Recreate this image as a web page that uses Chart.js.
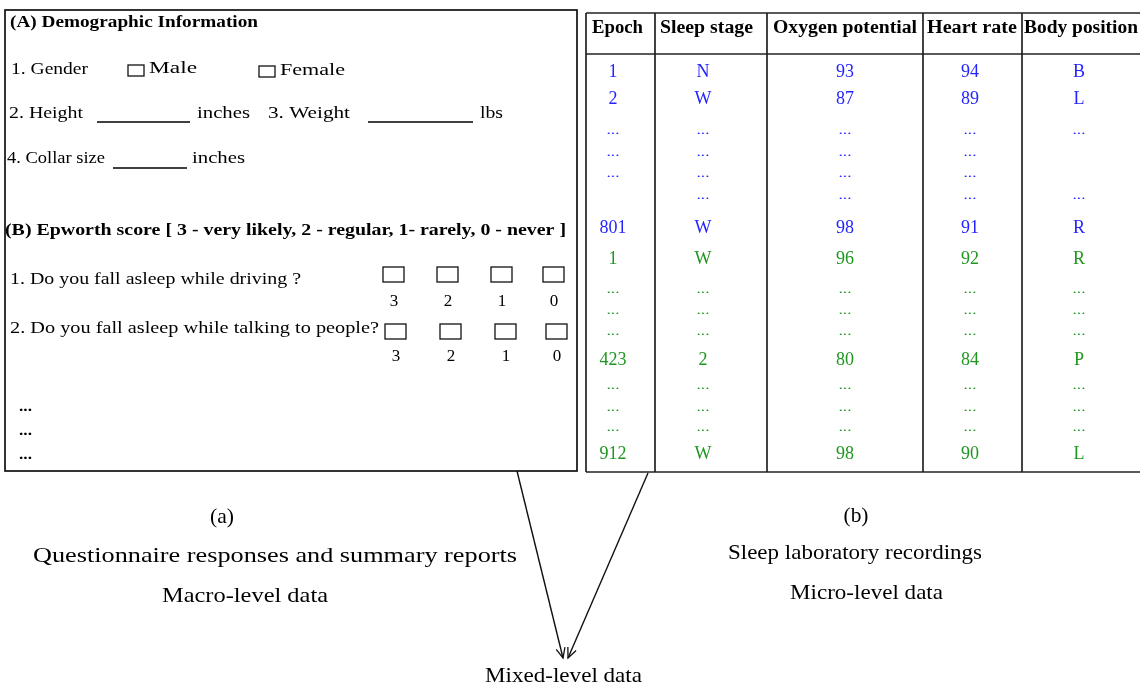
<!DOCTYPE html>
<html>
<head>
<meta charset="utf-8">
<script src="https://cdn.jsdelivr.net/npm/chart.js@4.4.1/dist/chart.umd.min.js"></script>
<style>
  html, body { margin: 0; padding: 0; background: #fff; }
  #wrap { width: 1140px; height: 688px; }
</style>
</head>
<body>
<div id="wrap"><canvas id="diagram" width="1140" height="688"></canvas></div>
<script>
// Table data (b) - sleep laboratory recordings
const columns = ["Epoch", "Sleep stage", "Oxygen potential", "Heart rate", "Body position"];
const blueRows = [
  ["1", "N", "93", "94", "B"],
  ["2", "W", "87", "89", "L"],
  ["...", "...", "...", "...", "..."],
  ["...", "...", "...", "...", ""],
  ["...", "...", "...", "...", ""],
  ["", "...", "...", "...", "..."],
  ["801", "W", "98", "91", "R"]
];
const greenRows = [
  ["1", "W", "96", "92", "R"],
  ["...", "...", "...", "...", "..."],
  ["...", "...", "...", "...", "..."],
  ["...", "...", "...", "...", "..."],
  ["423", "2", "80", "84", "P"],
  ["...", "...", "...", "...", "..."],
  ["...", "...", "...", "...", "..."],
  ["...", "...", "...", "...", "..."],
  ["912", "W", "98", "90", "L"]
];

// Questionnaire (a)
const demoTitle = "(A) Demographic Information";
const genderOptions = ["Male", "Female"];
const epworthTitle = "(B) Epworth score [ 3 - very likely, 2 - regular, 1- rarely, 0 - never ]";
const epworthQuestions = ["1. Do you fall asleep while driving ?", "2. Do you fall asleep while talking to people?"];
const epworthScores = ["3", "2", "1", "0"];

const captions = ["(a)", "Questionnaire responses and summary reports", "Macro-level data",
                  "(b)", "Sleep laboratory recordings", "Micro-level data", "Mixed-level data"];

// layout (pixel units of the 1140 x 688 frame)
const colX = [613, 703, 845, 970, 1079];
const blueY = [72, 99, 133, 155, 176, 198, 228];
const greenY = [259, 292, 313, 334, 360, 388, 410, 430, 454];
const tableCols = [586, 655, 767, 923, 1022];
const tableRowsY = [13, 54, 472];
const headerSpan = [[592, 643], [660, 753], [773, 917], [927, 1017], [1024, 1138]];
const boxesRow1 = [383, 437, 491, 543];
const boxesRow2 = [385, 440, 495, 546];

const SERIF = '"Liberation Serif", "Times New Roman", serif';

// arrows into "Mixed-level data"
const arrowA = [{x: 517, y: 471}, {x: 563, y: 658}];
const arrowB = [{x: 648, y: 473}, {x: 568, y: 658}];

const diagramPlugin = {
  id: "diagram",
  afterDatasetsDraw(chart) {
    const ctx = chart.ctx;
    const sx = chart.scales.x, sy = chart.scales.y;
    const X = v => sx.getPixelForValue(v);
    const Y = v => sy.getPixelForValue(v);

    // draws text; x is the left edge, or the centre when align is "center".
    // a target width w stretches the text horizontally to fit it
    function text(str, x, y, size, opts = {}) {
      ctx.save();
      ctx.font = (opts.bold ? "bold " : "") + size + "px " + SERIF;
      ctx.fillStyle = opts.color || "#000";
      ctx.textBaseline = "middle";
      const nat = ctx.measureText(str).width;
      const k = opts.w ? (X(opts.w) - X(0)) / nat : 1;
      let left = X(x);
      if (opts.align === "center") left -= nat * k / 2;
      ctx.translate(left, Y(y));
      ctx.scale(k, 1);
      ctx.textAlign = "left";
      ctx.fillText(str, 0, 0);
      ctx.restore();
    }
    function span(str, x1, x2, y, size, opts = {}) {
      text(str, x1, y, size, Object.assign({}, opts, {w: x2 - x1}));
    }
    function line(x1, y1, x2, y2, w = 1.6, c = "#222") {
      ctx.save();
      ctx.strokeStyle = c; ctx.lineWidth = w;
      ctx.beginPath(); ctx.moveTo(X(x1), Y(y1)); ctx.lineTo(X(x2), Y(y2)); ctx.stroke();
      ctx.restore();
    }
    function box(x, y, w, h, lw = 1.3) {
      ctx.save();
      ctx.strokeStyle = "#111"; ctx.lineWidth = lw;
      ctx.strokeRect(X(x), Y(y), X(x + w) - X(x), Y(y + h) - Y(y));
      ctx.restore();
    }

    // ---- left panel: questionnaire ----
    box(5, 10, 572, 461, 1.7);
    span(demoTitle, 10, 258, 23, 17, {bold: true});
    span("1. Gender", 11, 88, 70, 16);
    box(128, 65, 16, 11);
    span(genderOptions[0], 149, 197, 69, 16);
    box(259, 66, 16, 11);
    span(genderOptions[1], 280, 345, 71, 16);
    span("2. Height", 9, 83, 114, 16);
    line(97, 122, 190, 122, 1.3, "#000");
    span("inches", 197, 250, 114, 16);
    span("3. Weight", 268, 350, 114, 16);
    line(368, 122, 473, 122, 1.3, "#000");
    span("lbs", 480, 503, 114, 16);
    span("4. Collar size", 7, 105, 159, 16);
    line(113, 168, 187, 168, 1.3, "#000");
    span("inches", 192, 245, 159, 16);
    span(epworthTitle, 5, 566, 231, 17, {bold: true});

    span(epworthQuestions[0], 10, 301, 280, 16);
    boxesRow1.forEach((bx, i) => {
      box(bx, 267, 21, 15);
      text(epworthScores[i], bx + 11, 302, 17, {align: "center"});
    });
    span(epworthQuestions[1], 10, 379, 329, 16);
    boxesRow2.forEach((bx, i) => {
      box(bx, 324, 21, 15);
      text(epworthScores[i], bx + 11, 357, 17, {align: "center"});
    });
    [407, 431, 455].forEach(yy => span("...", 19, 32, yy, 14, {bold: true}));

    // ---- right panel: table ----
    line(tableCols[0], tableRowsY[0], 1140, tableRowsY[0], 1.7);
    line(tableCols[0], tableRowsY[1], 1140, tableRowsY[1], 1.7);
    line(tableCols[0], tableRowsY[2], 1140, tableRowsY[2], 1.7);
    tableCols.forEach(cx => line(cx, tableRowsY[0], cx, tableRowsY[2], 1.7));

    columns.forEach((c, i) => span(c, headerSpan[i][0], headerSpan[i][1], 28, 18, {bold: true}));

    function rowText(rows, ys, color) {
      rows.forEach((r, ri) => {
        r.forEach((cell, ci) => {
          if (!cell) return;
          if (cell === "...") text("...", colX[ci], ys[ri] - 2, 13, {align: "center", color, w: 13});
          else text(cell, colX[ci], ys[ri], 18, {align: "center", color});
        });
      });
    }
    rowText(blueRows, blueY, "#2424ff");
    rowText(greenRows, greenY, "#1f961f");

    // ---- captions ----
    text(captions[0], 222, 517, 22, {align: "center", w: 24});
    span(captions[1], 33, 517, 556, 22);
    span(captions[2], 162, 328, 596, 22);
    text(captions[3], 856, 516, 22, {align: "center", w: 25});
    span(captions[4], 728, 982, 553, 22);
    span(captions[5], 790, 943, 593, 22);
    span(captions[6], 485, 642, 676, 22);

    // arrow heads (open V)
    [arrowA, arrowB].forEach(a => {
      const [p, q] = a;
      const ang = Math.atan2(Y(q.y) - Y(p.y), X(q.x) - X(p.x));
      const len = 11, spread = 0.42;
      ctx.save();
      ctx.strokeStyle = "#111"; ctx.lineWidth = 1.3;
      ctx.beginPath();
      ctx.moveTo(X(q.x) - len * Math.cos(ang - spread), Y(q.y) - len * Math.sin(ang - spread));
      ctx.lineTo(X(q.x), Y(q.y));
      ctx.lineTo(X(q.x) - len * Math.cos(ang + spread), Y(q.y) - len * Math.sin(ang + spread));
      ctx.stroke();
      ctx.restore();
    });
  }
};

new Chart(document.getElementById("diagram"), {
  type: "scatter",
  data: {
    datasets: [
      { data: arrowA, showLine: true, borderColor: "#111", borderWidth: 1.4, pointRadius: 0 },
      { data: arrowB, showLine: true, borderColor: "#111", borderWidth: 1.4, pointRadius: 0 }
    ]
  },
  options: {
    responsive: false,
    animation: false,
    layout: { padding: 0 },
    plugins: { legend: { display: false }, tooltip: { enabled: false } },
    scales: {
      x: { type: "linear", min: 0, max: 1140, display: false },
      y: { type: "linear", min: 0, max: 688, reverse: true, display: false }
    }
  },
  plugins: [diagramPlugin]
});
</script>
</body>
</html>
